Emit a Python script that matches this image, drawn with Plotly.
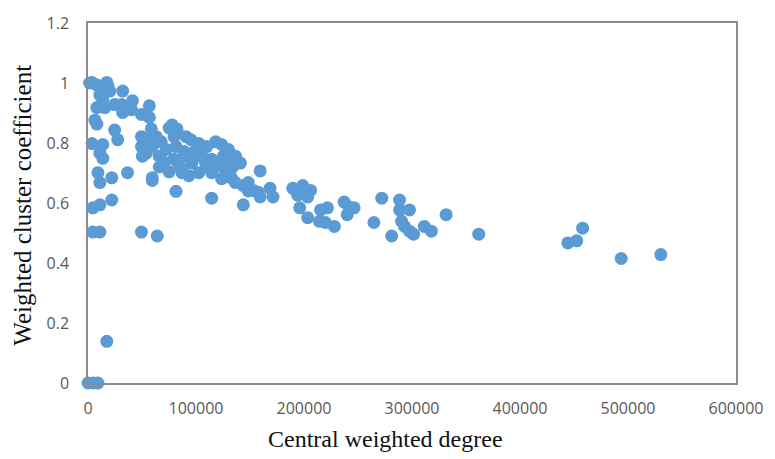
import plotly.graph_objects as go

# Central weighted degree (x) and weighted cluster coefficient (y)
degree = [
    0, 4600, 9200,
    17400,
    4600, 11000, 49500, 64100,
    4600, 11000, 22000,
    9200, 11000, 22000, 36600, 59500, 59500, 81500,
    3700, 13700, 11000, 13700,
    24700, 27500, 6400, 8200,
    3700, 8200, 17400, 20200, 11000, 13700, 8200, 15600, 24700, 32100, 31100, 32100,
    41200, 40300, 49500, 56800, 56800, 1500, 12000, 18500,
    49500, 52200, 49500, 54000, 50400, 58600, 63200, 59500, 67800, 66000, 72400,
    77900, 82400, 79700, 81500, 79700, 84300, 87000,
    75100, 70500, 75100, 88800, 66000, 60000, 55000,
    90700, 95300, 102600, 109900, 118200, 123700, 130100, 136500, 141100,
    90700, 96200, 102600, 87000, 93400, 102600, 109000, 114500, 120900, 128200,
    125500, 114500, 123700, 132800, 136500, 143800, 148400, 159400, 157600, 153000,
    168500, 171300, 159400, 143800, 114500, 148400, 98000, 105000, 112000, 127000, 134000,
    189600, 198800, 206100, 194200, 203400, 196000, 203400, 215300, 221700, 214300,
    219800, 228100, 237200, 241800, 240000, 246400, 264700, 272000, 281200, 288500,
    288500, 297700, 290400, 293100, 297700, 301400, 311400, 317900, 331600,
    361800, 444300, 452500, 458000, 493700, 530400,
]
coefficient = [
    0.0, 0.0, 0.0,
    0.139,
    0.503, 0.503, 0.503, 0.490,
    0.584, 0.594, 0.610,
    0.701, 0.668, 0.684, 0.701, 0.684, 0.675, 0.639,
    0.798, 0.795, 0.766, 0.749,
    0.843, 0.811, 0.876, 0.863,
    1.002, 0.993, 1.002, 0.973, 0.960, 0.944, 0.918, 0.918, 0.928, 0.973, 0.928, 0.902,
    0.941, 0.911, 0.895, 0.924, 0.885, 1.0, 0.985, 0.990,
    0.821, 0.798, 0.788, 0.766, 0.756, 0.847, 0.821, 0.788, 0.804, 0.756, 0.778,
    0.860, 0.847, 0.821, 0.788, 0.746, 0.723, 0.701,
    0.850, 0.736, 0.704, 0.772, 0.720, 0.800, 0.810,
    0.821, 0.811, 0.798, 0.788, 0.804, 0.795, 0.778, 0.756, 0.733,
    0.756, 0.733, 0.756, 0.714, 0.691, 0.701, 0.730, 0.746, 0.723, 0.701,
    0.756, 0.701, 0.681, 0.684, 0.668, 0.658, 0.668, 0.707, 0.636, 0.642,
    0.649, 0.620, 0.620, 0.594, 0.616, 0.640, 0.770, 0.760, 0.720, 0.740, 0.720,
    0.649, 0.658, 0.642, 0.626, 0.620, 0.584, 0.551, 0.577, 0.584, 0.539,
    0.535, 0.522, 0.603, 0.587, 0.561, 0.584, 0.535, 0.616, 0.490, 0.610,
    0.577, 0.577, 0.539, 0.522, 0.506, 0.496, 0.522, 0.506, 0.561,
    0.496, 0.467, 0.474, 0.516, 0.415, 0.428,
]

y_ticks = [0, 0.2, 0.4, 0.6, 0.8, 1.0, 1.2]
y_tick_labels = ["0", "0.2", "0.4", "0.6", "0.8", "1", "1.2"]
x_ticks = [0, 100000, 200000, 300000, 400000, 500000, 600000]
x_tick_labels = ["0", "100000", "200000", "300000", "400000", "500000", "600000"]

fig = go.Figure()
fig.add_trace(go.Scatter(
    x=degree, y=coefficient, mode="markers",
    marker=dict(color="#5B9BD5", size=13, line=dict(width=0)),
    cliponaxis=False, showlegend=False,
))

tick_font = dict(family="Open Sans, Liberation Sans, sans-serif", size=16, color="#595959")
title_font = dict(family="Liberation Serif, Times New Roman, serif", color="#111111")
fig.update_layout(
    width=775, height=459,
    margin=dict(l=88, r=32, t=13, b=76),
    paper_bgcolor="white", plot_bgcolor="white",
    xaxis=dict(
        range=[0, 600000], tickvals=x_ticks, ticktext=x_tick_labels,
        showgrid=False, zeroline=False, showline=True, linecolor="#8c8c8c",
        linewidth=1.5, mirror=True, ticks="", tickfont=tick_font,
        ticklabelstandoff=10,
    ),
    yaxis=dict(
        range=[0, 1.2], tickvals=y_ticks, ticktext=y_tick_labels,
        showgrid=False, zeroline=False, showline=True, linecolor="#8c8c8c",
        linewidth=1.5, mirror=True, ticks="", tickfont=tick_font,
        ticklabelstandoff=14,
    ),
    annotations=[
        dict(text="Central weighted degree", xref="paper", yref="paper",
             x=(389 - 88) / 655, y=-(441 - 383) / 370, xanchor="center", yanchor="middle",
             showarrow=False, font=dict(size=24, **title_font)),
        dict(text="Weighted cluster coefficient", xref="paper", yref="paper",
             x=-(88 - 22) / 655, y=(383 - 200) / 370, xanchor="center", yanchor="middle",
             textangle=-90, showarrow=False, font=dict(size=25, **title_font)),
    ],
)

fig.write_html("out.html")
